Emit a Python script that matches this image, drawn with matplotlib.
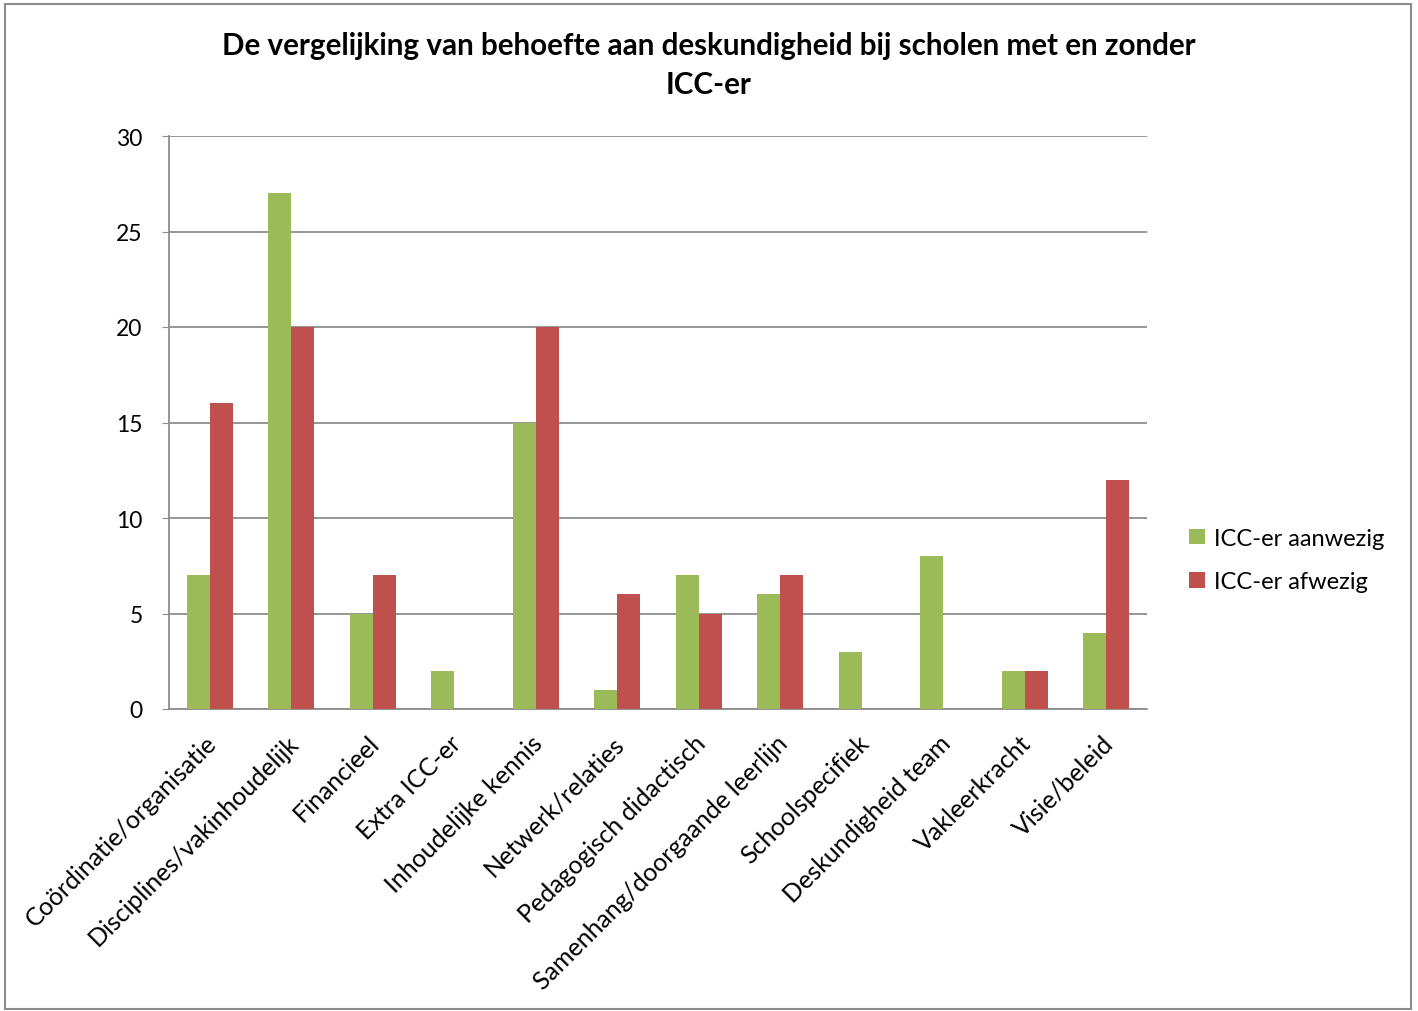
import matplotlib.pyplot as plt
import matplotlib.transforms as mtransforms
from matplotlib.patches import Rectangle
import numpy as np

plt.rcParams["font.family"] = ["Lato", "DejaVu Sans"]

# Expertise categories and counts per school group
categories = [
    "Coördinatie/organisatie",
    "Disciplines/vakinhoudelijk",
    "Financieel",
    "Extra ICC-er",
    "Inhoudelijke kennis",
    "Netwerk/relaties",
    "Pedagogisch didactisch",
    "Samenhang/doorgaande leerlijn",
    "Schoolspecifiek",
    "Deskundigheid team",
    "Vakleerkracht",
    "Visie/beleid",
]
aanwezig = [7, 27, 5, 2, 15, 1, 7, 6, 3, 8, 2, 4]
afwezig = [16, 20, 7, 0, 20, 6, 5, 7, 0, 0, 2, 12]

green = "#9BBB59"
red = "#C0504D"

fig = plt.figure(figsize=(14.18, 10.12), dpi=100)
ax = fig.add_axes([169 / 1418, 1 - 710 / 1012, 978 / 1418, 573 / 1012])

# outer chart border
fig.patches.append(Rectangle((5 / 1418, 2 / 1012), 1406 / 1418, 1005 / 1012,
                             transform=fig.transFigure, fill=False,
                             edgecolor="#8c8c8c", linewidth=1.5))

x = np.arange(len(categories))
w = 0.283
ax.bar(x - w / 2, aanwezig, w, color=green, label="ICC-er aanwezig", zorder=3)
ax.bar(x + w / 2, afwezig, w, color=red, label="ICC-er afwezig", zorder=3)

ax.set_xlim(-0.5, len(categories) - 0.5)
ax.set_ylim(0, 30)
ax.set_yticks(range(0, 31, 5))
ax.yaxis.grid(True, color="#8c8c8c", linewidth=1.3, zorder=0)
ax.set_axisbelow(True)

for side in ["top", "right"]:
    ax.spines[side].set_visible(False)
for side in ["left", "bottom"]:
    ax.spines[side].set_color("#8c8c8c")
    ax.spines[side].set_linewidth(1.3)

ax.tick_params(axis="y", length=5, color="#8c8c8c", labelsize=16.5, pad=14)
ax.tick_params(axis="x", length=0)
ax.set_xticks(x)
ax.set_xticklabels(categories, rotation=45, ha="right", va="top",
                   rotation_mode="anchor", fontsize=18)
offset = mtransforms.ScaledTranslation(-0.05, -0.17, fig.dpi_scale_trans)
for lbl in ax.get_xticklabels():
    lbl.set_transform(lbl.get_transform() + offset)

fig.text(0.5, 1 - 46 / 1012,
         "De vergelijking van behoefte aan deskundigheid bij scholen met en zonder",
         ha="center", va="center", fontsize=21.3, fontweight="bold")
fig.text(0.5, 1 - 85 / 1012, "ICC-er", ha="center", va="center",
         fontsize=21.3, fontweight="bold")

fig.legend(loc="center left", bbox_to_anchor=(1168 / 1418, 1 - 561 / 1012),
           frameon=False, fontsize=17, handlelength=0.65, handleheight=0.65,
           handletextpad=0.4, labelspacing=0.95)

fig.savefig("out.png", dpi=100)
